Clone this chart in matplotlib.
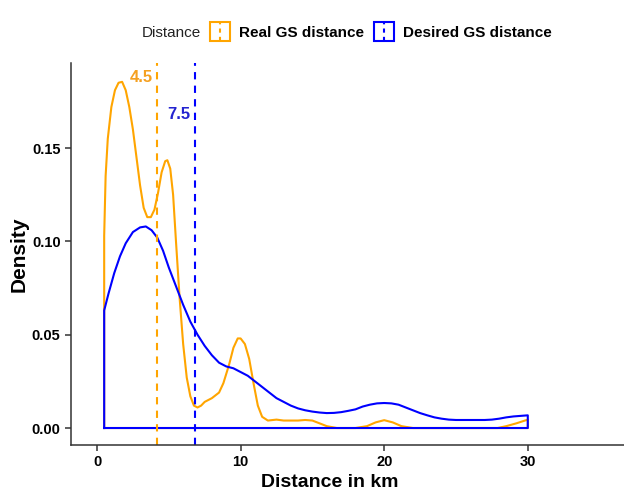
import matplotlib
matplotlib.use("Agg")
import matplotlib.pyplot as plt
from matplotlib.legend_handler import HandlerBase
from matplotlib.patches import Rectangle
from matplotlib.lines import Line2D

plt.rcParams['font.family'] = ['Liberation Sans', 'DejaVu Sans']

# ---- data ----
real_x = [0.5, 0.5, 0.6, 0.75, 1.0, 1.25, 1.5, 1.75, 2.0, 2.25, 2.5, 2.75, 3.0, 3.25, 3.5, 3.75,
          4.0, 4.25, 4.5, 4.75, 4.9, 5.1, 5.3, 5.5, 5.75, 6.0, 6.25, 6.5, 6.75, 7.0, 7.25, 7.5,
          8.0, 8.5, 8.8, 9.2, 9.5, 9.8, 10.0, 10.3, 10.6, 10.9, 11.2, 11.5, 11.9, 12.5, 13.0,
          13.5, 14.0, 14.5, 15.0, 15.5, 16.0, 16.7, 18.0, 18.8, 19.4, 20.0, 20.6, 21.2, 22.0,
          27.9, 28.5, 29.2, 30.0, 30.0, 0.5]
real_y = [0.0, 0.103, 0.135, 0.155, 0.172, 0.181, 0.185, 0.1855, 0.181, 0.172, 0.160, 0.145,
          0.130, 0.118, 0.113, 0.113, 0.117, 0.126, 0.137, 0.143, 0.1435, 0.139, 0.125, 0.100,
          0.070, 0.045, 0.027, 0.017, 0.012, 0.011, 0.012, 0.014, 0.016, 0.019, 0.024, 0.034,
          0.043, 0.048, 0.048, 0.045, 0.037, 0.024, 0.012, 0.006, 0.004, 0.0045, 0.004, 0.004,
          0.004, 0.0043, 0.004, 0.0025, 0.001, 0.0, 0.0, 0.001, 0.003, 0.0042, 0.003, 0.001,
          0.0, 0.0, 0.001, 0.0025, 0.0045, 0.0, 0.0]

desired_x = [0.5, 0.5, 0.8, 1.2, 1.6, 2.0, 2.5, 3.0, 3.4, 3.8, 4.2, 4.6, 5.0, 5.5, 6.0, 6.5,
             7.0, 7.5, 8.0, 8.5, 9.0, 9.5, 10.0, 10.5, 11.0, 11.5, 12.0, 12.5, 13.0, 13.5, 14.0,
             14.5, 15.0, 15.5, 16.0, 16.5, 17.0, 17.5, 18.0, 18.5, 19.0, 19.5, 20.0, 20.5, 21.0,
             21.5, 22.0, 22.5, 23.0, 23.5, 24.0, 24.5, 25.0, 26.0, 27.0, 27.5, 28.0, 28.5, 29.0,
             29.5, 30.0, 30.0, 0.5]
desired_y = [0.0, 0.063, 0.072, 0.083, 0.092, 0.099, 0.105, 0.1075, 0.108, 0.106, 0.102, 0.095,
             0.086, 0.076, 0.066, 0.057, 0.050, 0.044, 0.039, 0.035, 0.033, 0.032, 0.030, 0.028,
             0.025, 0.022, 0.019, 0.016, 0.014, 0.012, 0.0105, 0.0095, 0.0088, 0.0083, 0.008,
             0.0081, 0.0085, 0.0092, 0.010, 0.0115, 0.0125, 0.0132, 0.0134, 0.0132, 0.0125,
             0.011, 0.0095, 0.008, 0.0068, 0.0057, 0.005, 0.0045, 0.0043, 0.0043, 0.0043,
             0.0045, 0.005, 0.0057, 0.0062, 0.0065, 0.0068, 0.0, 0.0]

series_names = ["Real GS distance", "Desired GS distance"]
series_colors = ["#FFA500", "#0000FF"]
vline_x = [4.18, 6.83]
vline_labels = ["4.5", "7.5"]
label_pos = [(3.08, 0.1876), (5.67, 0.1680)]
label_colors = ["#F5A020", "#2424D0"]
xticks = [0, 10, 20, 30]
yticks = [0.00, 0.05, 0.10, 0.15]

fig = plt.figure(figsize=(6.24, 4.94), dpi=100)
ax = fig.add_axes([0.1138, 0.0992, 0.8862, 0.7733])

ax.plot(real_x, real_y, color=series_colors[0], lw=1.5, solid_joinstyle='round')
ax.plot(desired_x, desired_y, color=series_colors[1], lw=1.5, solid_joinstyle='round')

for xv, c in zip(vline_x, series_colors):
    ax.axvline(xv, color=c, lw=1.5, linestyle=(0, (3.5, 3)))

for (lx, ly), t, c in zip(label_pos, vline_labels, label_colors):
    ax.text(lx, ly, t, color=c, fontsize=12, fontweight='bold', ha='center', va='center')

ax.set_xlim(-1.81, 36.7)
ax.set_ylim(-0.0091, 0.1956)
ax.set_xticks(xticks)
ax.set_xticklabels([str(v) for v in xticks])
ax.set_yticks(yticks)
ax.set_yticklabels(["%.2f" % v for v in yticks])
for s in ['top', 'right']:
    ax.spines[s].set_visible(False)
for s in ['left', 'bottom']:
    ax.spines[s].set_color('#333333')
    ax.spines[s].set_linewidth(1.1)
ax.tick_params(axis='both', colors='#333333', length=4, width=1.1, direction='out')
for lab in ax.get_xticklabels() + ax.get_yticklabels():
    lab.set_fontweight('bold')
    lab.set_fontsize(10.5)
    lab.set_color('black')
ax.set_xlabel("Distance in km", fontsize=14, fontweight='bold')
ax.xaxis.set_label_coords(0.468, -0.077)
ax.set_ylabel("Density", fontsize=15, fontweight='bold')
ax.yaxis.set_label_coords(-0.076, 0.5)


class BoxVline(HandlerBase):
    def create_artists(self, legend, orig_handle, xdescent, ydescent, width, height, fontsize, trans):
        c = orig_handle.get_color()
        w = width
        h = 14.0
        x0 = -xdescent
        y0 = -ydescent + height / 2 - h / 2
        r = Rectangle((x0, y0), w, h, fill=False, edgecolor=c, lw=1.5, transform=trans)
        l = Line2D([x0 + w / 2, x0 + w / 2], [y0, y0 + h], color=c, lw=1.5,
                   linestyle=(0, (2.0, 2.0)), transform=trans)
        return [r, l]


handles = [Line2D([], [], color=c) for c in series_colors]
leg = fig.legend(handles, series_names, handler_map={Line2D: BoxVline()}, ncol=2,
                 loc='center left', bbox_to_anchor=(0.325, 0.933), frameon=False,
                 prop={'weight': 'bold', 'size': 11}, handlelength=1.31, borderpad=0,
                 handletextpad=0.59, columnspacing=0.65)
fig.text(0.2276, 0.925, "Distance", fontsize=11, va='baseline', ha='left', color='#222222')

fig.savefig("out.png", dpi=100)
